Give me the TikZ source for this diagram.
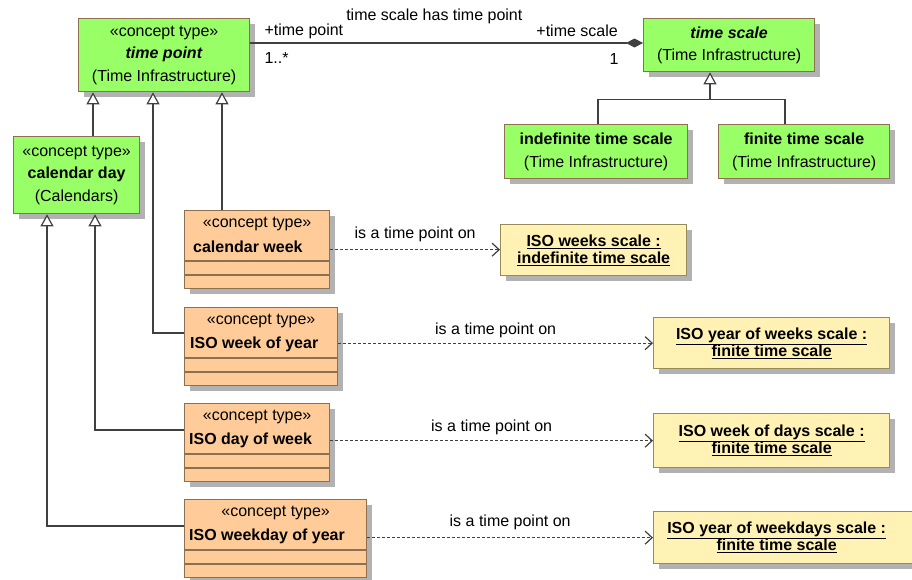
\documentclass[tikz,border=0pt]{standalone}
\usepackage{fontspec}
\setmainfont{Liberation Sans}
\usetikzlibrary{arrows.meta,shadows,calc}
\definecolor{gfill}{RGB}{153,255,102}
\definecolor{ofill}{RGB}{255,204,153}
\definecolor{yfill}{RGB}{255,242,180}
\definecolor{bord}{RGB}{140,112,80}
\definecolor{ybord}{RGB}{150,140,90}
\definecolor{ink}{RGB}{64,64,64}
\begin{document}
\begin{tikzpicture}[x=1pt,y=-1pt,
  box/.style={draw=bord, line width=1.3pt,
    drop shadow={shadow xshift=5pt,shadow yshift=-5pt,fill=black!30,opacity=1},
    anchor=north west, inner sep=0pt, align=center,
    font=\fontsize{16}{22.5}\selectfont},
  gbox/.style={box, fill=gfill},
  obox/.style={box, fill=ofill},
  ybox/.style={box, fill=yfill, draw=ybord, font=\fontsize{16}{17}\selectfont\bfseries},
  txt/.style={inner sep=0pt, font=\fontsize{16}{19}\selectfont},
  ntxt/.style={txt, anchor=west, font=\fontsize{16}{19}\selectfont\bfseries},
  cline/.style={draw=bord, line width=1.3pt},
  conn/.style={draw=ink, line width=1.2pt},
  gen/.style={conn, -{Triangle[width=13pt,length=12pt,fill=white]}},
  dep/.style={conn, dash pattern=on 3pt off 2pt, -{Straight Barb[length=7pt,width=13pt]}},
  assoc/.style={conn, -{Diamond[length=17pt,width=9pt,fill=ink]}}
]
\useasboundingbox (0,0) rectangle (912,579);

% green boxes
\node[gbox, minimum width=171pt, minimum height=73pt] (tp) at (78,18)
  {«concept type»\\\textbf{\textit{time point}}\\(Time Infrastructure)};
\node[gbox, minimum width=126pt, minimum height=77pt] (cd) at (13,136)
  {«concept type»\\\textbf{calendar day}\\(Calendars)};
\node[gbox, minimum width=171pt, minimum height=53pt] (ts) at (643,18)
  {\textbf{\textit{time scale}}\\(Time Infrastructure)};
\node[gbox, minimum width=183pt, minimum height=54pt] (its) at (504,124)
  {\textbf{indefinite time scale}\\(Time Infrastructure)};
\node[gbox, minimum width=171pt, minimum height=54pt] (fts) at (718,124)
  {\textbf{finite time scale}\\(Time Infrastructure)};

% orange boxes
\node[obox, minimum width=145pt, minimum height=78pt] (cw) at (184,210) {};
\node[obox, minimum width=153pt, minimum height=78pt] (wy) at (184,307) {};
\node[obox, minimum width=145pt, minimum height=78pt] (dw) at (184,403) {};
\node[obox, minimum width=182pt, minimum height=78pt] (wdy) at (184,499) {};
\foreach \b in {cw,wy,dw,wdy}{
  \draw[cline] ($(\b.north west)+(0,51)$) -- ($(\b.north east)+(0,51)$);
  \draw[cline] ($(\b.north west)+(0,65)$) -- ($(\b.north east)+(0,65)$);
  \node[txt] (\b S) at ($(\b.north)+(0,14)$) {«concept type»};
}
\node[ntxt] (cwN) at ($(cw.north west)+(9,37)$) {calendar week};
\node[ntxt] (wyN) at ($(wy.north west)+(6,37)$) {ISO week of year};
\node[ntxt] (dwN) at ($(dw.north west)+(5,37)$) {ISO day of week};
\node[ntxt] (wdyN) at ($(wdy.north west)+(5,37)$) {ISO weekday of year};

% yellow instance boxes
\node[ybox, minimum width=186pt, minimum height=51pt] (y1) at (500,224)
  {\underline{ISO weeks scale :}\\\underline{indefinite time scale}};
\node[ybox, minimum width=236pt, minimum height=51pt] (y2) at (653,317)
  {\underline{ISO year of weeks scale :}\\\underline{finite time scale}};
\node[ybox, minimum width=236pt, minimum height=54pt] (y3) at (653,413)
  {\underline{ISO week of days scale :}\\\underline{finite time scale}};
\node[ybox, minimum width=266pt, minimum height=52pt] (y4) at (653,511)
  {\underline{ISO year of weekdays scale :}\hspace*{20pt}\\\underline{finite time scale}\hspace*{20pt}};

% generalizations
\draw[gen] ($(cd.north west)+(80,0)$) -- ($(tp.south west)+(15,0)$);
\draw[gen] ($(cw.north west)+(38,0)$) -- ($(tp.south west)+(144,0)$);
\draw[gen] ($(wy.north west)+(0,26)$) -| ($(tp.south west)+(75,0)$);
\draw[gen] ($(dw.north west)+(0,27)$) -| ($(cd.south west)+(82,0)$);
\draw[gen] ($(wdy.north west)+(0,27)$) -| ($(cd.south west)+(34,0)$);
\coordinate (j) at ($(ts.south west)+(67,27)$);
\draw[conn] ($(its.north west)+(94,0)$) |- (j) -| ($(fts.north west)+(67,0)$);
\draw[gen] (j) -- (j |- ts.south);

% association
\draw[assoc] ($(tp.north east)+(0,25)$) -- ($(ts.north west)+(0,25)$);
\node[txt] (an) at ($(tp.north east)+(184,-2)$) {time scale has time point};
\node[txt, anchor=west] (rl1) at ($(tp.north east)+(14,13)$) {+time point};
\node[txt, anchor=west] (rl2) at ($(tp.north east)+(14,40)$) {1..*};
\node[txt, anchor=east] (rr1) at ($(ts.north west)+(-25,13)$) {+time scale};
\node[txt] (rr2) at ($(ts.north west)+(-29,41)$) {1};

% dependencies
\draw[dep] (cw.east) -- (cw.east -| y1.west)
  node[txt, midway, yshift=15pt] (d1) {is a time point on};
\draw[dep] (y2.west -| wy.east) -- (y2.west)
  node[txt, midway, yshift=13pt] (d2) {is a time point on};
\draw[dep] (y3.west -| dw.east) -- (y3.west)
  node[txt, midway, yshift=13pt] (d3) {is a time point on};
\draw[dep] (y4.west -| wdy.east) -- (y4.west)
  node[txt, midway, yshift=15pt] (d4) {is a time point on};
\end{tikzpicture}
\end{document}
